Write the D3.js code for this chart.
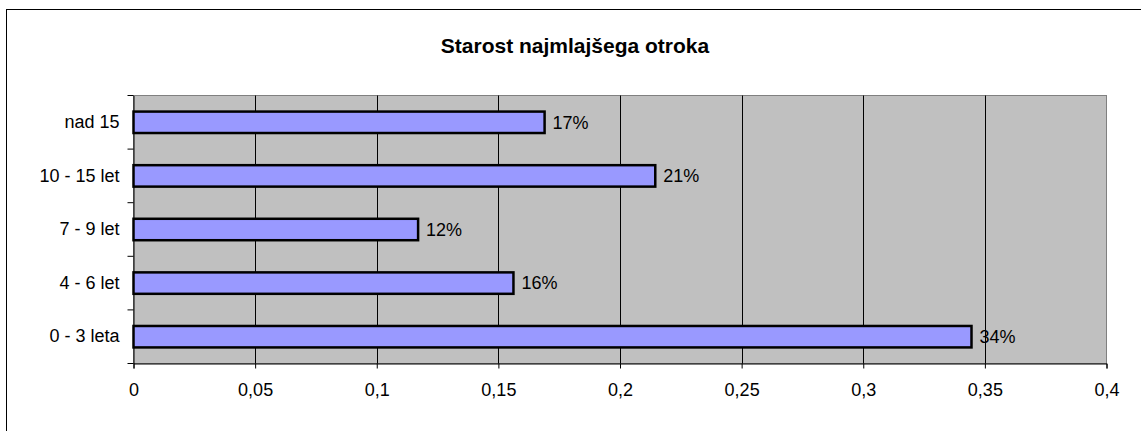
<!doctype html>
<html>
<head>
<meta charset="utf-8">
<title>Starost najmlajšega otroka</title>
<script src="https://d3js.org/d3.v7.min.js"></script>
<style>
  body { margin: 0; background: #fff; }
  text { font-family: Arial, "Liberation Sans", sans-serif; fill: #000; }
</style>
</head>
<body>
<svg id="chart" width="1141" height="431"></svg>
<script>
// data
var categories = ["nad 15", "10 - 15 let", "7 - 9 let", "4 - 6 let", "0 - 3 leta"];
var values = [0.169, 0.2145, 0.117, 0.1562, 0.3445];
var xTicks = [0, 0.05, 0.1, 0.15, 0.2, 0.25, 0.3, 0.35, 0.4];
var title = "Starost najmlajšega otroka";

var svg = d3.select("#chart");

// outer frame of the chart object (cropped at right and bottom)
svg.append("rect")
  .attr("x", 6.5).attr("y", 9.5)
  .attr("width", 1150).attr("height", 440)
  .attr("fill", "#fff").attr("stroke", "#000");

var plot = {left: 133.5, right: 1106.5, top: 95.5, bottom: 363.5};

var x = d3.scaleLinear()
  .domain([0, 0.4])
  .range([plot.left, plot.right]);

var y = d3.scaleBand()
  .domain(categories)
  .range([plot.top, plot.bottom])
  .padding(0);

// plot area
svg.append("rect")
  .attr("x", plot.left).attr("y", plot.top)
  .attr("width", plot.right - plot.left)
  .attr("height", plot.bottom - plot.top)
  .attr("fill", "#c0c0c0")
  .attr("stroke", "#808080");

// vertical gridlines
svg.append("g")
  .selectAll("line")
  .data(xTicks.slice(1, -1))
  .enter().append("line")
    .attr("x1", function(d) { return Math.round(x(d)) + 0.5; })
    .attr("x2", function(d) { return Math.round(x(d)) + 0.5; })
    .attr("y1", plot.top).attr("y2", plot.bottom)
    .attr("stroke", "#000");

// x axis
var fmt = function(d) { return String(d).replace(".", ","); };
var xAxis = svg.append("g")
  .attr("transform", "translate(0," + plot.bottom + ")")
  .call(d3.axisBottom(x).tickValues(xTicks).tickFormat(fmt).tickSize(5).tickPadding(15));
xAxis.select(".domain").attr("stroke", "#000");
xAxis.selectAll("text").style("font-size", "18px").attr("font-family", null);

// y axis: ticks sit on the category boundaries
var yAxis = svg.append("g")
  .attr("transform", "translate(" + plot.left + ",0)")
  .call(d3.axisLeft(y).tickSize(0).tickPadding(14));
yAxis.select(".domain").attr("stroke", "#000");
yAxis.selectAll("text").style("font-size", "18px").attr("font-family", null);

var bounds = categories.map(function(c) { return y(c); }).concat([plot.bottom]);
svg.append("g")
  .selectAll("line")
  .data(bounds)
  .enter().append("line")
    .attr("x1", plot.left - 6).attr("x2", plot.left)
    .attr("y1", function(d) { return d; })
    .attr("y2", function(d) { return d; })
    .attr("stroke", "#000");

// bars
var barH = y.bandwidth() * 0.4;
svg.append("g")
  .selectAll("rect")
  .data(values)
  .enter().append("rect")
    .attr("x", x(0))
    .attr("y", function(d, i) { return y(categories[i]) + (y.bandwidth() - barH) / 2; })
    .attr("width", function(d) { return x(d) - x(0); })
    .attr("height", barH)
    .attr("fill", "#9999ff")
    .attr("stroke", "#000")
    .attr("stroke-width", 2.5);

// value labels
svg.append("g")
  .selectAll("text")
  .data(values)
  .enter().append("text")
    .attr("x", function(d) { return x(d) + 8; })
    .attr("y", function(d, i) { return y(categories[i]) + y.bandwidth() / 2; })
    .attr("dy", "0.35em")
    .style("font-size", "18px")
    .text(function(d) { return Math.round(d * 100) + "%"; });

// title
svg.append("text")
  .attr("x", 575).attr("y", 53)
  .attr("text-anchor", "middle")
  .style("font-size", "21px")
  .style("font-weight", "bold")
  .text(title);
</script>
</body>
</html>
